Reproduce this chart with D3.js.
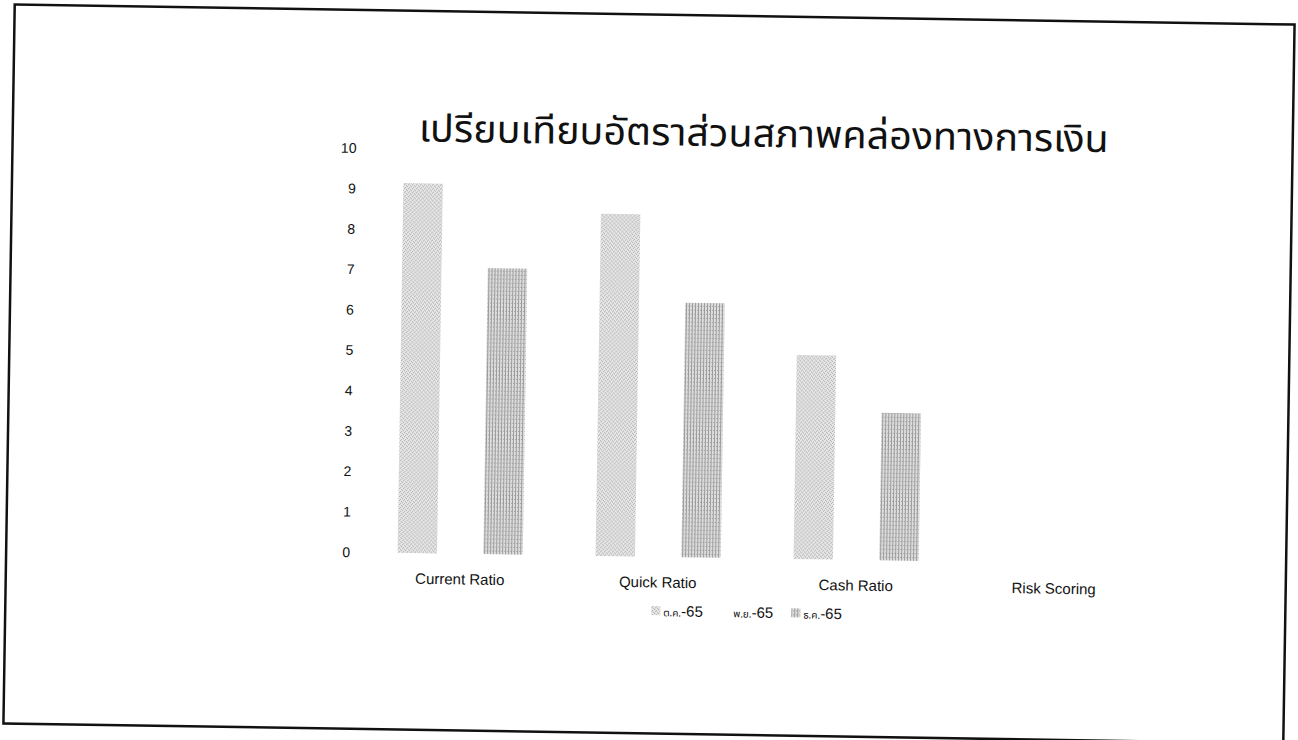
<!DOCTYPE html>
<html>
<head>
<meta charset="utf-8">
<script src="https://cdn.jsdelivr.net/npm/d3@7"></script>
<style>
  html, body { margin: 0; padding: 0; background: #fff; }
  svg { display: block; }
</style>
</head>
<body>
<div id="chart"></div>
<script>
(function() {

  var
    categories = ['Current Ratio', 'Quick Ratio', 'Cash Ratio', 'Risk Scoring'],
    seriesNames = ['ต.ค.', 'พ.ย.', 'ธ.ค.'],
    seriesYear = '-65',
    octValues = [9.15, 8.47, 5.05, 0],
    novValues = [0, 0, 0, 0],
    decValues = [7.08, 6.3, 3.65, 0],
    yTicks = [0, 1, 2, 3, 4, 5, 6, 7, 8, 9, 10],
    title = 'เปรียบเทียบอัตราส่วนสภาพคล่องทางการเงิน';

  var
    width = 1298,
    height = 740,
    tilt = 0.9, // the scanned page is a bit crooked
    cx = 649,
    cy = 374,
    latin = '"Liberation Sans", Arial, sans-serif',
    thai = '"Noto Sans Thai", "Noto Sans", Tahoma, "DejaVu Sans", sans-serif';

  var series = [octValues, novValues, decValues];
  var fills = ['url(#stipple-light)', 'none', 'url(#stipple-dark)'];

  var svg = d3.select('#chart').append('svg')
    .attr('width', width)
    .attr('height', height);

  // scan-like patterns for the bars
  var defs = svg.append('defs');
  var p1 = defs.append('pattern')
    .attr('id', 'stipple-light')
    .attr('patternUnits', 'userSpaceOnUse')
    .attr('width', 4).attr('height', 4);
  p1.append('rect').attr('width', 4).attr('height', 4).attr('fill', '#e8e8e8');
  [[0, 0], [2, 1], [1, 3], [3, 2]].forEach(function(d) {
    p1.append('rect').attr('x', d[0]).attr('y', d[1]).attr('width', 1).attr('height', 1).attr('fill', '#a8a8a8');
  });

  var p3 = defs.append('pattern')
    .attr('id', 'stipple-dark')
    .attr('patternUnits', 'userSpaceOnUse')
    .attr('width', 3).attr('height', 4);
  p3.append('rect').attr('width', 3).attr('height', 4).attr('fill', '#dedede');
  p3.append('rect').attr('x', 0).attr('width', 1).attr('height', 4).attr('fill', '#9a9a9a');
  p3.append('rect').attr('x', 2).attr('y', 1).attr('width', 1).attr('height', 1).attr('fill', '#a6a6a6');

  var page = svg.append('g')
    .attr('transform', 'rotate(' + tilt + ',' + cx + ',' + cy + ')');

  // frame round the chart
  page.append('rect')
    .attr('x', 9)
    .attr('y', 14.5)
    .attr('width', 1280)
    .attr('height', 719)
    .attr('fill', 'none')
    .attr('stroke', '#111')
    .attr('stroke-width', 2.5);

  // title sits centred over the plot area
  page.append('text')
    .attr('x', 760)
    .attr('y', 145)
    .attr('text-anchor', 'middle')
    .attr('font-family', thai)
    .attr('font-size', 38)
    .attr('textLength', 690)
    .attr('lengthAdjust', 'spacingAndGlyphs')
    .attr('fill', '#111')
    .text(title);

  var y = d3.scaleLinear()
    .domain([0, 10])
    .range([556.7, 152.6]);

  var x = d3.scaleBand()
    .domain(categories)
    .range([364, 1156])
    .paddingInner(1 / 3)
    .paddingOuter(1 / 6);

  var xSeries = d3.scaleBand()
    .domain(d3.range(series.length))
    .range([0, x.bandwidth()])
    .padding(0.08);

  // y axis: labels only, no line
  var yAxis = page.append('g')
    .attr('transform', 'translate(353,0)')
    .call(d3.axisLeft(y).tickValues(yTicks).tickSize(0).tickPadding(0));
  yAxis.select('.domain').remove();
  yAxis.selectAll('text')
    .attr('font-family', latin)
    .attr('font-size', 14)
    .attr('fill', '#111');

  // bars
  var groups = page.append('g')
    .selectAll('g')
    .data(categories)
    .enter().append('g')
    .attr('transform', function(d) { return 'translate(' + x(d) + ',0)'; });

  groups.selectAll('rect')
    .data(function(d, i) {
      return series.map(function(s, j) { return { series: j, value: s[i] }; });
    })
    .enter().append('rect')
    .filter(function(d) { return d.value > 0 && fills[d.series] !== 'none'; })
    .attr('x', function(d) { return xSeries(d.series); })
    .attr('y', function(d) { return y(d.value); })
    .attr('width', xSeries.bandwidth())
    .attr('height', function(d) { return y(0) - y(d.value); })
    .attr('fill', function(d) { return fills[d.series]; });

  // category labels
  var xAxis = page.append('g')
    .attr('transform', 'translate(0,' + (y(0) + 20) + ')')
    .call(d3.axisBottom(x).tickSize(0).tickPadding(0));
  xAxis.select('.domain').remove();
  xAxis.selectAll('text')
    .attr('font-family', latin)
    .attr('font-size', 15)
    .attr('fill', '#111');

  // legend
  var legend = page.append('g')
    .attr('transform', 'translate(655,611)');

  var item = legend.selectAll('g')
    .data(seriesNames)
    .enter().append('g')
    .attr('transform', function(d, i) { return 'translate(' + (i * 70) + ',0)'; });

  item.append('rect')
    .attr('x', 0)
    .attr('y', -5)
    .attr('width', 9)
    .attr('height', 9)
    .attr('fill', function(d, i) { return fills[i] === 'none' ? '#fff' : fills[i]; });

  var label = item.append('text')
    .attr('x', 12)
    .attr('y', 5)
    .attr('fill', '#111');
  label.append('tspan')
    .attr('font-family', thai)
    .attr('font-size', 10)
    .text(function(d) { return d; });
  label.append('tspan')
    .attr('font-family', latin)
    .attr('font-size', 15)
    .text(seriesYear);

})();
</script>
</body>
</html>
